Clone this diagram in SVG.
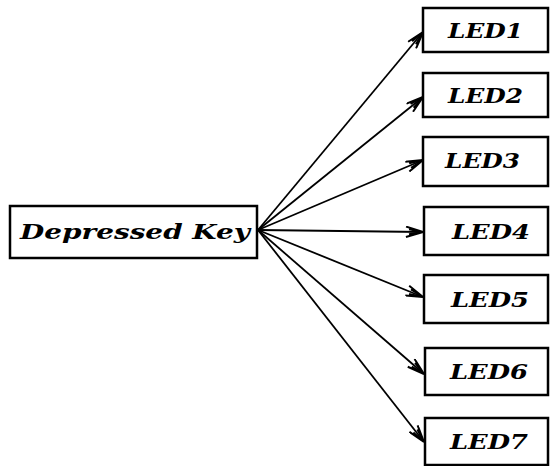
<svg xmlns="http://www.w3.org/2000/svg" width="550" height="466" viewBox="0 0 550 466">
<defs>
<style>
.box{fill:#fff;stroke:#000;stroke-width:2.5}
.lbl{font-family:"DejaVu Serif","Liberation Serif",serif;font-style:italic;font-weight:bold;font-size:21px;fill:#000}
.edge{stroke:#000;stroke-width:1.8;fill:none;marker-end:url(#ah)}
</style>
<marker id="ah" viewBox="0 0 20 12" refX="19" refY="6" markerWidth="20" markerHeight="12" markerUnits="userSpaceOnUse" orient="auto">
<path d="M19,6 L2,0.8 M19,6 L2,11.2 M19,6 L5,3.5 M19,6 L5,8.5" stroke="#000" stroke-width="2" fill="none"/>
</marker>
</defs>
<rect width="550" height="466" fill="#fff"/>
<g id="connectors">
<line class="edge" x1="258" y1="230" x2="423" y2="32"/>
<line class="edge" x1="258" y1="230" x2="423" y2="97"/>
<line class="edge" x1="258" y1="230" x2="423" y2="160"/>
<line class="edge" x1="258" y1="230" x2="423" y2="232"/>
<line class="edge" x1="258" y1="230" x2="423" y2="297"/>
<line class="edge" x1="258" y1="230" x2="424" y2="374"/>
<line class="edge" x1="258" y1="230" x2="424" y2="442"/>
</g>
<g id="depressed-key">
<rect class="box" x="10" y="206" width="247" height="52"/>
<text class="lbl" x="20" y="239" textLength="230" lengthAdjust="spacingAndGlyphs">Depressed Key</text>
</g>
<g id="led1">
<rect class="box" x="423" y="8" width="125" height="44"/>
<text class="lbl" x="448" y="38" textLength="75" lengthAdjust="spacingAndGlyphs">LED1</text>
</g>
<g id="led2">
<rect class="box" x="423" y="73" width="125" height="44"/>
<text class="lbl" x="448" y="103" textLength="75" lengthAdjust="spacingAndGlyphs">LED2</text>
</g>
<g id="led3">
<rect class="box" x="423" y="137" width="125" height="49"/>
<text class="lbl" x="445" y="168" textLength="75" lengthAdjust="spacingAndGlyphs">LED3</text>
</g>
<g id="led4">
<rect class="box" x="424" y="207" width="124" height="48"/>
<text class="lbl" x="452" y="239" textLength="78" lengthAdjust="spacingAndGlyphs">LED4</text>
</g>
<g id="led5">
<rect class="box" x="424" y="275" width="124" height="48"/>
<text class="lbl" x="451" y="307" textLength="78" lengthAdjust="spacingAndGlyphs">LED5</text>
</g>
<g id="led6">
<rect class="box" x="425" y="348" width="123" height="47"/>
<text class="lbl" x="450" y="379" textLength="78" lengthAdjust="spacingAndGlyphs">LED6</text>
</g>
<g id="led7">
<rect class="box" x="425" y="418" width="123" height="47"/>
<text class="lbl" x="450" y="449" textLength="78" lengthAdjust="spacingAndGlyphs">LED7</text>
</g>
</svg>
